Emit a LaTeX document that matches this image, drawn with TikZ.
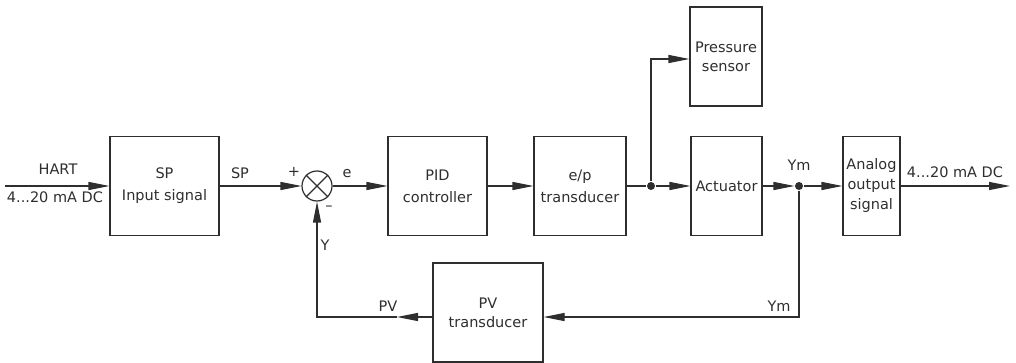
\documentclass[tikz,border=0pt]{standalone}
\usepackage{fontspec}
\setmainfont{DejaVu Sans}
\usetikzlibrary{arrows.meta}
\definecolor{ink}{HTML}{2E2E2E}
\begin{document}
\begin{tikzpicture}[x=1pt,y=-1pt, line width=1.2pt, draw=ink,
  blk/.style={draw=ink, rectangle, inner sep=0pt, align=center, text=ink,
    font=\fontsize{14.5}{22}\selectfont},
  lbl/.style={inner sep=0pt, text=ink, font=\fontsize{14.5}{17}\selectfont},
  arr/.style={-{Triangle[length=21pt,width=8pt]}},
  dotn/.style={circle, fill=ink, inner sep=0pt, minimum size=8pt}]
\useasboundingbox (0,0) rectangle (1016,363);
% blocks
\node[blk, minimum width=109pt, minimum height=99pt] (sp) at (164.5,186) {SP\\Input signal};
\node[blk, minimum width=99pt, minimum height=99pt] (pid) at (437.5,186) {PID\\controller};
\node[blk, minimum width=92pt, minimum height=99pt] (ep) at (580,186) {e/p\\transducer};
\node[blk, minimum width=71pt, minimum height=99pt] (act) at (726.5,186) {Actuator};
\node[blk, minimum width=72pt, minimum height=99pt, font=\fontsize{14.5}{19}\selectfont] (ps) at (726,56.5) {Pressure\\sensor};
\node[blk, minimum width=57pt, minimum height=99pt, font=\fontsize{14.5}{20}\selectfont] (ana) at (871.5,186) {Analog\\output\\signal};
\node[blk, minimum width=110pt, minimum height=99pt, font=\fontsize{14.5}{19}\selectfont] (pv) at (488,312.5) {PV\\transducer};
% summing junction
\node[circle, draw=ink, minimum size=30pt, inner sep=0pt] (sum) at (317,186) {};
\draw (sum.north west) -- (sum.south east) (sum.north east) -- (sum.south west);
% junction dots
\node[dotn] (d1) at (651,186) {};
\node[dotn] (d2) at (799,186) {};
% coordinates
\coordinate (in) at (5,186);
\coordinate (out) at (1010,186);
\coordinate (pstop) at (651,59);
\coordinate (fbR) at (799,317);
\coordinate (pvtip) at (397,317);
\coordinate (fbL) at (317,317);
% connectors
\draw[arr] (in) -- (sp.west);
\draw[arr] (sp.east) -- (sum.west);
\draw[arr] (sum.east) -- (pid.west);
\draw[arr] (pid.east) -- (ep.west);
\draw (ep.east) -- (d1);
\draw[arr] (d1) -- (act.west);
\draw[arr] (d1) -- (pstop) -- (pstop -| ps.west);
\draw[arr] (act.east) -- (d2);
\draw[arr] (d2) -- (ana.west);
\draw[arr] (ana.east) -- (out);
\draw[arr] (d2) -- (fbR) -- (fbR -| pv.east);
\draw[arr] (pv.west |- fbR) -- (pvtip);
\draw[arr] (pvtip) -- (fbL) -- (sum.south);
% labels
\node[lbl] (hart) at (58,169) {HART};
\node[lbl] (inma) at (55,197) {4...20 mA DC};
\node[lbl] (splbl) at (240,173) {SP};
\node[lbl] (plus) at (294,172) {+};
\node[lbl] (minus) at (329,208) {\textendash};
\node[lbl] (elbl) at (347,174) {e};
\node[lbl] (ymtop) at (799,165) {Ym};
\node[lbl] (outma) at (955,172) {4...20 mA DC};
\node[lbl] (ylbl) at (325,245) {Y};
\node[lbl] (pvlbl) at (388,306) {PV};
\node[lbl] (ymbot) at (779,306) {Ym};
\end{tikzpicture}
\end{document}
